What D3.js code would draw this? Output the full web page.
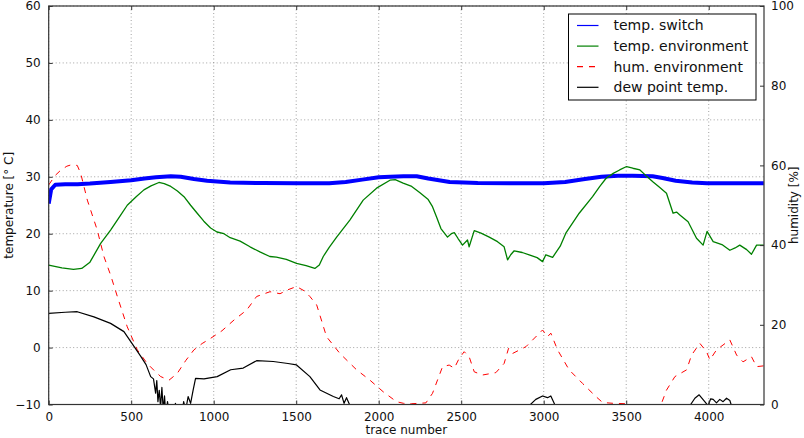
<!DOCTYPE html>
<html>
<head>
<meta charset="utf-8">
<script src="https://cdn.jsdelivr.net/npm/d3@7"></script>
<style>
	body { margin: 0; background: #fff; }
	svg { font-family: "DejaVu Sans", sans-serif; }
</style>
</head>
<body>
<div id="graph"></div>
<script>
// trace numbers and readings for each series
const traceSwitch = [0, 15, 40, 100, 175, 250, 375, 500, 580, 650, 740, 800, 880, 960, 1100, 1300, 1500, 1700, 1800, 1900, 2000, 2070, 2150, 2230, 2300, 2430, 2600, 2800, 3000, 3130, 3250, 3350, 3450, 3540, 3660, 3720, 3800, 3900, 3990, 4150, 4334];
const tempSwitch = [25.3, 27.8, 28.6, 28.7, 28.7, 28.8, 29.1, 29.4, 29.7, 29.9, 30.1, 30.0, 29.6, 29.3, 29.0, 28.9, 28.85, 28.85, 29.1, 29.5, 29.9, 30.0, 30.1, 30.1, 29.7, 29.1, 28.9, 28.85, 28.85, 29.1, 29.6, 30.0, 30.2, 30.2, 30.1, 29.8, 29.3, 29.0, 28.85, 28.85, 28.85];

const traceEnv = [0, 80, 150, 200, 250, 315, 375, 430, 476, 530, 577, 620, 668, 700, 740, 780, 820, 860, 900, 940, 981, 1020, 1062, 1100, 1160, 1220, 1280, 1340, 1380, 1440, 1502, 1560, 1613, 1640, 1664, 1700, 1745, 1825, 1906, 1987, 2068, 2100, 2148, 2200, 2250, 2300, 2326, 2350, 2377, 2417, 2440, 2458, 2480, 2508, 2538, 2548, 2579, 2620, 2670, 2720, 2760, 2781, 2800, 2821, 2870, 2912, 2960, 2993, 3013, 3054, 3100, 3134, 3215, 3296, 3340, 3377, 3421, 3460, 3502, 3540, 3583, 3620, 3663, 3700, 3744, 3784, 3805, 3825, 3875, 3926, 3966, 3990, 4027, 4080, 4128, 4160, 4188, 4230, 4259, 4290, 4334];
const tempEnv = [14.5, 14.0, 13.75, 13.9, 15.0, 18.3, 20.65, 23.0, 25.0, 26.5, 27.7, 28.4, 29.0, 28.8, 28.3, 27.5, 26.5, 25.0, 23.6, 22.2, 21.0, 20.3, 20.0, 19.3, 18.7, 17.7, 16.8, 16.0, 15.9, 15.5, 14.8, 14.4, 13.9, 14.5, 16.0, 17.6, 19.4, 22.4, 25.9, 28.0, 29.4, 29.5, 28.9, 28.3, 27.2, 26.0, 24.75, 23.0, 20.9, 19.4, 20.0, 20.2, 19.2, 18.0, 18.9, 17.7, 20.55, 20.1, 19.4, 18.6, 17.7, 15.4, 16.3, 17.0, 16.7, 16.3, 15.8, 15.1, 16.3, 15.85, 17.8, 20.1, 23.6, 26.5, 28.3, 29.7, 30.6, 31.2, 31.8, 31.5, 31.2, 30.2, 29.1, 28.2, 27.1, 23.6, 23.8, 23.3, 22.1, 19.2, 18.0, 20.4, 18.6, 18.1, 17.1, 17.5, 18.0, 17.2, 16.4, 18.0, 18.0];

const traceHum = [0, 40, 73, 110, 133, 173, 194, 234, 294, 335, 375, 416, 476, 537, 597, 640, 679, 729, 779, 830, 880, 930, 981, 1050, 1123, 1200, 1260, 1341, 1402, 1450, 1502, 1550, 1583, 1624, 1684, 1765, 1866, 1947, 2027, 2108, 2150, 2200, 2286, 2326, 2387, 2427, 2458, 2488, 2518, 2548, 2579, 2629, 2710, 2760, 2787, 2811, 2892, 2993, 3023, 3043, 3084, 3154, 3235, 3316, 3357, 3420, 3500, 3530, 3650, 3700, 3714, 3744, 3795, 3866, 3896, 3946, 3987, 4007, 4047, 4128, 4169, 4208, 4259, 4290, 4334];
const humEnv = [55.1, 57.5, 58.8, 59.8, 60.1, 60.0, 58.0, 51.3, 43.8, 37.1, 32.5, 27.1, 19.5, 13.7, 10.3, 8.5, 7.0, 6.1, 7.8, 11.0, 13.7, 15.3, 16.6, 18.5, 21.2, 23.7, 27.1, 28.3, 27.8, 28.8, 29.6, 28.5, 27.1, 25.0, 17.0, 12.8, 8.7, 6.1, 3.2, 0.7, 0.3, 0.2, 0.4, 2.8, 9.5, 9.9, 9.1, 11.6, 13.25, 12.0, 8.2, 7.4, 8.0, 10.3, 14.1, 12.8, 14.5, 18.7, 17.0, 17.9, 13.7, 8.7, 5.3, 2.0, 0.5, 0.3, 0.2, -1, -1, -0.5, 0.3, 3.6, 7.0, 8.7, 12.4, 15.35, 13.25, 11.2, 13.7, 16.2, 12.4, 10.7, 12.0, 9.5, 9.7];

const traceDew = [0, 100, 173, 274, 375, 456, 517, 557, 590, 618, 635, 648, 655, 662, 670, 678, 686, 694, 702, 710, 720, 730, 742, 755, 768, 780, 792, 805, 818, 830, 845, 860, 875, 890, 941, 1021, 1103, 1179, 1260, 1361, 1450, 1502, 1583, 1644, 1725, 1760, 1775, 1790, 1805, 1826, 1900, 2880, 2912, 2952, 2993, 3023, 3043, 3070, 3100, 3860, 3886, 3916, 3942, 3976, 3996, 4012, 4027, 4047, 4067, 4087, 4108, 4128, 4138, 4170, 4334];
const tempDew = [6.0, 6.2, 6.3, 5.4, 4.25, 2.8, 0.2, -1.5, -3.0, -5.1, -5.5, -8.0, -5.8, -9.5, -7.5, -10.5, -7.0, -11, -8.5, -12, -9.5, -11.5, -10, -12, -9.8, -11, -10.2, -12, -9.5, -11, -8.6, -9.8, -7.5, -5.4, -5.5, -5.1, -3.9, -3.6, -2.3, -2.45, -2.8, -3.05, -5.1, -7.45, -8.6, -9.0, -8.3, -9.8, -8.8, -10.2, -14, -14, -10.2, -9.1, -8.5, -8.8, -8.5, -10.2, -14, -14, -10.2, -8.9, -8.3, -9.5, -10.2, -9.0, -9.1, -9.7, -9.1, -9.5, -8.9, -9.3, -10.2, -14, -14];

const xTicks = [0, 500, 1000, 1500, 2000, 2500, 3000, 3500, 4000];
const tempTicks = [-10, 0, 10, 20, 30, 40, 50, 60];
const humTicks = [0, 20, 40, 60, 80, 100];
const seriesNames = ["temp. switch", "temp. environment", "hum. environment", "dew point temp."];
const seriesColors = ["#0000ff", "#008000", "#ff0000", "#000000"];

let width = 804;
let height = 438;
let margin = {"top": 6, "right": 40, "bottom": 33.5, "left": 48.7};
let plotW = width - margin.left - margin.right;
let plotH = height - margin.top - margin.bottom;

var svg = d3.select("#graph")
	.append("svg")
	.attr("width", width)
	.attr("height", height);

var g = svg.append("g")
	.attr("transform", "translate(" + margin.left + "," + margin.top + ")");

// scales: one x, temperature on the left, humidity on the right
var x = d3.scaleLinear().domain([0, 4335]).range([0, plotW]);
var yT = d3.scaleLinear().domain([-10, 60]).range([plotH, 0]);
var yH = d3.scaleLinear().domain([0, 100]).range([plotH, 0]);

g.append("clipPath").attr("id", "clip")
	.append("rect").attr("width", plotW).attr("height", plotH);

// dotted grid
g.selectAll(".vgrid").data(xTicks).enter().append("line")
	.attr("x1", (d) => x(d)).attr("x2", (d) => x(d))
	.attr("y1", 0).attr("y2", plotH)
	.style("stroke", "#8a8a8a").style("stroke-width", 0.8).style("stroke-dasharray", "1,2.5");
g.selectAll(".hgrid").data(tempTicks).enter().append("line")
	.attr("x1", 0).attr("x2", plotW)
	.attr("y1", (d) => yT(d)).attr("y2", (d) => yT(d))
	.style("stroke", "#8a8a8a").style("stroke-width", 0.8).style("stroke-dasharray", "1,2.5");

const zip = (xs, ys) => xs.map((t, i) => [t, ys[i]]);

var lines = g.append("g").attr("clip-path", "url(#clip)");

const addLine = (pts, yScale, color, w, dash) => {
	lines.append("path")
		.datum(pts)
		.attr("fill", "none")
		.attr("stroke", color)
		.attr("stroke-width", w)
		.attr("stroke-linejoin", "round")
		.attr("stroke-dasharray", dash)
		.attr("d", d3.line().x((d) => x(d[0])).y((d) => yScale(d[1])));
};

addLine(zip(traceSwitch, tempSwitch), yT, seriesColors[0], 4, null);
addLine(zip(traceEnv, tempEnv), yT, seriesColors[1], 1.3, null);
addLine(zip(traceHum, humEnv), yH, seriesColors[2], 1, "6,6");
addLine(zip(traceDew, tempDew), yT, seriesColors[3], 1.2, null);

// axes with inward ticks
var axisBottom = d3.axisBottom(x).tickValues(xTicks).tickSizeInner(-4).tickSizeOuter(0).tickPadding(8).tickFormat(d3.format("d"));
var axisTop = d3.axisTop(x).tickValues(xTicks).tickSizeInner(-4).tickSizeOuter(0).tickFormat("");
var axisLeft = d3.axisLeft(yT).tickValues(tempTicks).tickSizeInner(-4).tickSizeOuter(0).tickPadding(8).tickFormat((d) => d < 0 ? "\u2212" + Math.abs(d) : d);
var axisRight = d3.axisRight(yH).tickValues(humTicks).tickSizeInner(-4).tickSizeOuter(0).tickPadding(7).tickFormat(d3.format("d"));

const styleAxis = (sel) => {
	sel.select(".domain").remove();
	sel.selectAll(".tick line").attr("stroke", "#333");
	sel.selectAll("text").attr("font-size", 12).attr("fill", "#111").attr("font-family", "DejaVu Sans");
};

g.append("g").attr("transform", "translate(0," + plotH + ")").call(axisBottom).call(styleAxis);
g.append("g").call(axisTop).call(styleAxis);
g.append("g").call(axisLeft).call(styleAxis);
g.append("g").attr("transform", "translate(" + plotW + ",0)").call(axisRight).call(styleAxis);

g.append("rect")
	.attr("width", plotW).attr("height", plotH)
	.attr("fill", "none").attr("stroke", "#333").attr("stroke-width", 1.2);

// axis labels
svg.append("text")
	.attr("x", margin.left + x(2167)).attr("y", 433.5)
	.attr("text-anchor", "middle").attr("font-size", 12).attr("fill", "#111")
	.text("trace number");
svg.append("text")
	.attr("transform", "translate(13," + (margin.top + plotH / 2) + ") rotate(-90)")
	.attr("text-anchor", "middle").attr("font-size", 12).attr("fill", "#111")
	.text("temperature [\u00b0 C]");
svg.append("text")
	.attr("transform", "translate(798," + (margin.top + plotH / 2) + ") rotate(-90)")
	.attr("text-anchor", "middle").attr("font-size", 12).attr("fill", "#111")
	.text("humidity [%]");

// legend
var legend = svg.append("g").attr("transform", "translate(568.5,14)");
legend.append("rect")
	.attr("width", 187.5).attr("height", 86)
	.attr("fill", "#fff").attr("stroke", "#000").attr("stroke-width", 1);
seriesNames.forEach((name, i) => {
	let yy = 11.5 + i * 20.6;
	legend.append("line")
		.attr("x1", 8.5).attr("x2", 30)
		.attr("y1", yy).attr("y2", yy)
		.style("stroke", seriesColors[i])
		.style("stroke-width", 1.2)
		.style("stroke-dasharray", i === 2 ? "6,6" : "none");
	legend.append("text")
		.attr("x", 45).attr("y", yy).attr("dy", "0.35em")
		.attr("font-size", 14).attr("fill", "#111")
		.text(name);
});
</script>
</body>
</html>
